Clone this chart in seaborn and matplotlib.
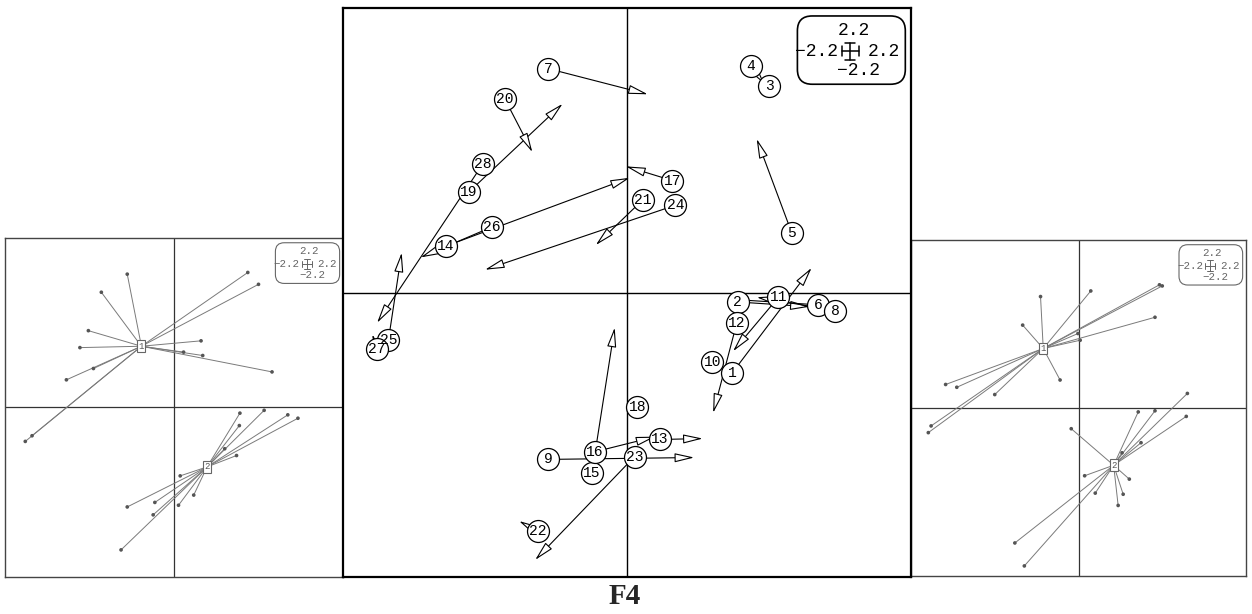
import numpy as np
import pandas as pd
import matplotlib
matplotlib.use("Agg")
import matplotlib.pyplot as plt
import seaborn as sns
from matplotlib.patches import FancyBboxPatch
from matplotlib.collections import LineCollection

# Sample labels, positions in the first table (start) and in the second (end), and class
labels = [str(i) for i in range(1, 29)]
x_start = [1.11, 1.17, 1.50, 1.31, 1.74, 2.02, -0.83, 2.20, -0.83, 0.90,
           1.60, 1.16, 0.35, -1.91, -0.37, -0.34, 0.48, 0.11, -1.67, -1.29,
           0.17, -0.94, 0.08, 0.51, -2.52, -1.43, -2.64, -1.52]
y_start = [-0.85, -0.10, 2.18, 2.39, 0.63, -0.13, 2.36, -0.19, -1.76, -0.73,
           -0.05, -0.32, -1.55, 0.49, -1.90, -1.68, 1.18, -1.21, 1.06, 2.04,
           0.98, -2.52, -1.73, 0.92, -0.50, 0.69, -0.60, 1.36]
x_end = [1.95, 1.93, 1.50, 1.45, 1.37, 1.07, 0.22, 1.37, 0.71, 0.78,
         1.12, 0.91, 0.80, 0.03, -0.13, 0.30, -0.01, 0.11, -0.68, -1.00,
         -0.33, -1.14, -0.97, -1.50, -2.38, -2.18, -2.69, -2.64]
y_end = [0.26, -0.15, 2.18, 2.20, 1.62, -0.07, 2.09, -0.05, -1.74, -0.80,
         -0.62, -1.27, -1.54, 1.21, -0.37, -1.52, 1.33, -1.21, 1.99, 1.48,
         0.50, -2.41, -2.82, 0.24, 0.42, 0.37, -0.44, -0.32]
group = ["2", "2", "1", "1", "1", "2", "1", "2", "2", "2",
         "2", "2", "2", "1", "2", "2", "1", "2", "1", "1",
         "1", "2", "2", "1", "1", "1", "1", "1"]

scale_labels = ["2.2", "\u22122.2", "2.2", "\u22122.2"]  # top, left, right, bottom
title = "F4"
lim = 3.0

df = pd.DataFrame({"label": labels, "xs": x_start, "ys": y_start,
                   "xe": x_end, "ye": y_end, "group": group})

sns.set_theme(style="white")
plt.rcParams["font.family"] = ["Liberation Mono", "DejaVu Sans Mono"]

W, H = 1252, 614
fig = plt.figure(figsize=(W / 100, H / 100), dpi=100)
fig.patch.set_facecolor("white")


def px_axes(x0, y0, w, h):
    return fig.add_axes([x0 / W, 1 - (y0 + h) / H, w / W, h / H])


def prepare(ax, frame_color, frame_lw, cross_color, cross_lw):
    ax.set_xlim(-lim, lim)
    ax.set_ylim(-lim, lim)
    ax.set_xticks([])
    ax.set_yticks([])
    ax.set_xlabel("")
    ax.set_ylabel("")
    ax.axhline(0, color=cross_color, lw=cross_lw, zorder=1)
    ax.axvline(0, color=cross_color, lw=cross_lw, zorder=1)
    for sp in ax.spines.values():
        sp.set_visible(True)
        sp.set_color(frame_color)
        sp.set_linewidth(frame_lw)


def scale_box(ax, k, color):
    box = FancyBboxPatch((0.800, 0.866), 0.190, 0.120,
                         boxstyle="round,pad=0,rounding_size=0.026",
                         transform=ax.transAxes, fc="white", ec=color,
                         lw=1.0 * k + 0.2, zorder=6)
    ax.add_patch(box)
    fs = 13 * k
    pos = [(0.899, 0.961), (0.833, 0.924), (0.952, 0.924), (0.908, 0.890)]
    for (tx, ty), s in zip(pos, scale_labels):
        ax.text(tx, ty, s, transform=ax.transAxes, ha="center", va="center",
                fontsize=fs, color=color, zorder=7)
    cx, cy, arm, cap = 0.893, 0.924, 0.015, 0.009
    kw = dict(transform=ax.transAxes, color=color, lw=1.0 * k + 0.1, zorder=8)
    ax.plot([cx - arm, cx + arm], [cy, cy], **kw)
    ax.plot([cx, cx], [cy - arm, cy + arm], **kw)
    ax.plot([cx - arm, cx - arm], [cy - cap, cy + cap], **kw)
    ax.plot([cx + arm, cx + arm], [cy - cap, cy + cap], **kw)
    ax.plot([cx - cap, cx + cap], [cy - arm, cy - arm], **kw)
    ax.plot([cx - cap, cx + cap], [cy + arm, cy + arm], **kw)


def star_panel(ax, xcol, ycol):
    prepare(ax, "#444444", 1.0, "#333333", 0.9)
    cent = df.groupby("group")[[xcol, ycol]].mean()
    segs = []
    for _, r in df.iterrows():
        c = cent.loc[r["group"]]
        segs.append([(c[xcol], c[ycol]), (r[xcol], r[ycol])])
    ax.add_collection(LineCollection(segs, colors="#7a7a7a", linewidths=0.7, zorder=2))
    sns.scatterplot(data=df, x=xcol, y=ycol, ax=ax, s=7, color="#555555",
                    edgecolor="none", legend=False, zorder=3)
    for g, c in cent.iterrows():
        ax.text(c[xcol], c[ycol], g, ha="center", va="center", fontsize=6.5,
                color="#555555", zorder=4,
                bbox=dict(boxstyle="square,pad=0.15", fc="white", ec="#666666", lw=0.8))
    ax.set_xlim(-lim, lim)
    ax.set_ylim(-lim, lim)
    ax.set_xlabel("")
    ax.set_ylabel("")
    scale_box(ax, 0.595, "#666666")


# side panels: class stars of the start and end positions
ax_left = px_axes(5, 238, 338, 339)
star_panel(ax_left, "xs", "ys")
ax_right = px_axes(911, 240, 335, 336)
star_panel(ax_right, "xe", "ye")

# central panel: arrows from start to end positions
ax = px_axes(343, 8, 568, 569)
prepare(ax, "black", 1.6, "black", 1.0)
for _, r in df.iterrows():
    if np.hypot(r["xe"] - r["xs"], r["ye"] - r["ys"]) < 1e-6:
        continue
    ax.annotate("", xy=(r["xe"], r["ye"]), xytext=(r["xs"], r["ys"]),
                arrowprops=dict(arrowstyle="-|>,head_length=1.2,head_width=0.28",
                                mutation_scale=10, fc="white", ec="black",
                                lw=0.8, shrinkA=0, shrinkB=0),
                zorder=2)
sns.scatterplot(data=df, x="xs", y="ys", ax=ax, s=250, color="white",
                edgecolor="black", linewidth=0.9, legend=False, zorder=3)
for _, r in df.iterrows():
    ax.text(r["xs"], r["ys"], r["label"], ha="center", va="center",
            fontsize=10.5, color="black", zorder=4)
ax.set_xlim(-lim, lim)
ax.set_ylim(-lim, lim)
ax.set_xlabel("")
ax.set_ylabel("")
scale_box(ax, 1.0, "black")

fig.text(625 / W, 1 - 597 / H, title, ha="center", va="center",
         family=["Liberation Serif", "DejaVu Serif"], weight="bold", fontsize=21)

fig.savefig("out.png", dpi=100, facecolor="white")
